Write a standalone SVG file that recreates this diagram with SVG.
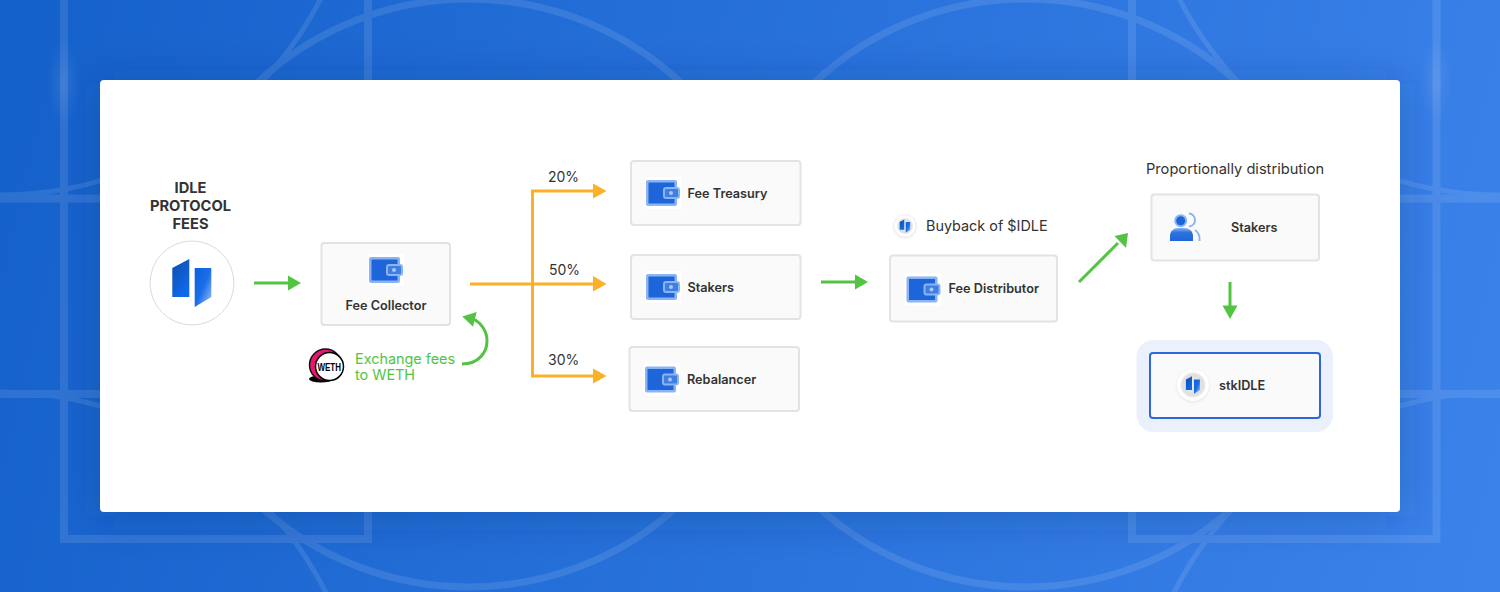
<svg xmlns="http://www.w3.org/2000/svg" xmlns:xlink="http://www.w3.org/1999/xlink" width="1500" height="592" viewBox="0 0 1500 592">
<style>
text{font-family:Inter,"Liberation Sans",sans-serif;fill:#333}
.b{font-weight:600;font-size:12.7px}
.h{font-weight:700;font-size:14.700px;text-anchor:middle}
.l{font-size:14px}
.g{font-size:14.400px;fill:#52c442}
.box{fill:#fafafa;stroke:#e3e3e3;stroke-width:2}
.bg{fill:none;stroke:#fff}
.or{fill:none;stroke:#fbb025;stroke-width:3}
.gr{fill:none;stroke:#52c442;stroke-width:3}
.orf{fill:#fbb025}
.grf{fill:#52c442}
</style>
<defs>
<linearGradient id="bgG" gradientUnits="userSpaceOnUse" x1="0" y1="120" x2="1500" y2="480"><stop offset="0" stop-color="#1561cb"/><stop offset="1" stop-color="#3b82ea"/></linearGradient>
<linearGradient id="l1" x1="0" y1="0" x2=".6" y2="1"><stop offset="0" stop-color="#0f4fa8"/><stop offset="1" stop-color="#0f69ee"/></linearGradient>
<linearGradient id="l2" x1="0" y1="0" x2="1" y2="1"><stop offset="0" stop-color="#0c60dc"/><stop offset=".5" stop-color="#1a6eea"/><stop offset="1" stop-color="#a0c2f7"/></linearGradient>
<linearGradient id="body" x1="0" y1="0" x2="0" y2="1"><stop offset="0" stop-color="#8ab4f4"/><stop offset=".35" stop-color="#2d72de"/><stop offset="1" stop-color="#1d65d9"/></linearGradient>
<radialGradient id="glow"><stop offset="0" stop-color="#fff" stop-opacity=".09"/><stop offset="1" stop-color="#fff" stop-opacity="0"/></radialGradient>
<radialGradient id="disc"><stop offset="0" stop-color="#f0f0f0"/><stop offset=".8" stop-color="#dfdfdf"/><stop offset="1" stop-color="#ececec"/></radialGradient>
<filter id="sh" x="-10%" y="-20%" width="120%" height="140%"><feGaussianBlur stdDeviation="22"/></filter>
<filter id="soft" x="-30%" y="-30%" width="160%" height="160%"><feGaussianBlur stdDeviation="1"/></filter>
<g id="wallet">
<rect x="-1" y="-3" width="36" height="32" fill="#fff"/>
<rect x="0" y="0" width="31" height="26" rx="2" fill="#8ab4f4"/>
<rect x="2.500" y="2.500" width="26" height="21" fill="#1d65d9"/>
<rect x="18" y="8" width="15" height="10" rx="2" fill="#3f7fe4" stroke="#8ab4f4" stroke-width="2"/>
<circle cx="25" cy="13" r="2" fill="#a9c8f7"/>
</g>
<g id="logo">
<polygon points="172.300,268 189.300,259 189.300,297 172.300,297" fill="url(#l1)"/>
<polygon points="194.700,268 211.300,268 211.300,297 194.700,307" fill="url(#l2)"/>
</g>
</defs>

<g id="background">
<rect width="1500" height="592" fill="url(#bgG)"/>
<g opacity=".1">
<g class="bg" stroke-width="7">
<ellipse cx="469" cy="293" rx="303" ry="294"/>
<ellipse cx="1026" cy="293" rx="303" ry="294"/>
</g>
<g class="bg" stroke-width="5">
<circle cx="0" cy="-165" r="360"/>
<circle cx="0" cy="757" r="365"/>
<circle cx="1500" cy="-165" r="360"/>
<circle cx="1500" cy="757" r="365"/>
</g>
<g class="bg" stroke-width="8">
<path d="M64 0V539H368V0"/>
<path d="M1132 0V539H1436.500V0"/>
<path d="M0 198.500H1500M0 394H1500"/>
</g>
</g>
<ellipse cx="64" cy="84" rx="16" ry="42" fill="url(#glow)"/>
<ellipse cx="1436" cy="81" rx="16" ry="42" fill="url(#glow)"/>
</g>

<g id="card">
<rect x="100" y="84" width="1300" height="432" fill="#0a2f70" fill-opacity=".28" filter="url(#sh)"/>
<rect x="100" y="80" width="1300" height="432" rx="4" fill="#fff"/>
</g>

<g id="connectors">
<path class="gr" d="M254 283H289"/>
<polygon class="grf" points="288,275.500 301,283 288,290.500"/>
<path class="or" d="M470 284H595"/>
<path class="or" d="M595 191H532.500V376H595"/>
<polygon class="orf" points="593,183.500 606.500,191 593,198.500"/>
<polygon class="orf" points="593,276 606.500,284 593,291.500"/>
<polygon class="orf" points="593,368.500 606.500,376 593,383.500"/>
<path class="gr" d="M821 282H856"/>
<polygon class="grf" points="855,274.500 868,282 855,289.500"/>
<path class="gr" d="M1079 282L1118 243"/>
<polygon class="grf" points="1128,233 1114.500,236 1126,248"/>
<path class="gr" d="M1230 282V307"/>
<polygon class="grf" points="1222.500,305.500 1237.500,305.500 1230,319"/>
<path class="gr" d="M462 364C479 364 487 352 487 341C487 331 481 323 472 318"/>
<polygon class="grf" points="462.300,316.500 476.700,312 473,326.700"/>
</g>

<g id="idle-fees">
<text class="h" x="190.500" y="193">IDLE</text>
<text class="h" x="190.500" y="211">PROTOCOL</text>
<text class="h" x="190.500" y="229">FEES</text>
<circle cx="192" cy="283" r="42" fill="#fff" stroke="#d9dbe4" stroke-width="1"/>
<use xlink:href="#logo" href="#logo"/>
</g>

<g id="fee-collector">
<rect class="box" x="321.500" y="243" width="128.500" height="82" rx="3"/>
<use xlink:href="#wallet" href="#wallet" x="369" y="257"/>
<text class="b" x="386" y="310" text-anchor="middle">Fee Collector</text>
</g>

<g id="weth">
<ellipse cx="321" cy="379" rx="12" ry="3.500" fill="#000"/>
<circle cx="325.500" cy="365" r="16" fill="#e8166f" stroke="#111" stroke-width="1.500"/>
<circle cx="329.500" cy="366.500" r="14" fill="#fff" stroke="#000" stroke-width="1.500"/>
<text x="317.500" y="370.500" textLength="23.500" lengthAdjust="spacingAndGlyphs" style="font-family:'Liberation Sans',sans-serif;font-weight:700;font-size:10.500px;fill:#000">WETH</text>
<text class="g" x="355" y="364">Exchange fees</text>
<text class="g" x="355" y="380">to WETH</text>
</g>

<g id="fee-treasury">
<rect class="box" x="631" y="161" width="169.500" height="64" rx="3"/>
<use xlink:href="#wallet" href="#wallet" x="646" y="180"/>
<text class="b" x="687.500" y="197.500">Fee Treasury</text>
<text class="l" x="548" y="182">20%</text>
</g>

<g id="stakers-share">
<rect class="box" x="631" y="255" width="169.500" height="64" rx="3"/>
<use xlink:href="#wallet" href="#wallet" x="646" y="274"/>
<text class="b" x="687.500" y="291.500">Stakers</text>
<text class="l" x="549" y="275">50%</text>
</g>

<g id="rebalancer">
<rect class="box" x="629.500" y="347" width="169.500" height="64" rx="3"/>
<use xlink:href="#wallet" href="#wallet" x="645" y="366.500"/>
<text class="b" x="687" y="383.500">Rebalancer</text>
<text class="l" x="548" y="365">30%</text>
</g>

<g id="fee-distributor">
<circle cx="905" cy="226.500" r="11.500" fill="#e8e8e8" filter="url(#soft)"/>
<circle cx="905" cy="226" r="10.500" fill="#fff"/>
<circle cx="905" cy="226" r="8" fill="url(#disc)"/>
<use xlink:href="#logo" href="#logo" transform="translate(905 226) scale(.27) translate(-192 -283)"/>
<text x="926" y="231" style="font-size:14.400px">Buyback of $IDLE</text>
<rect class="box" x="890" y="255.500" width="167" height="66" rx="3"/>
<use xlink:href="#wallet" href="#wallet" x="906.500" y="276.500"/>
<text class="b" x="948.500" y="293">Fee Distributor</text>
</g>

<g id="stakers">
<text x="1146" y="174" style="font-size:14.650px">Proportionally distribution</text>
<rect class="box" x="1151.500" y="194.500" width="167.500" height="66" rx="3"/>
<circle cx="1180.700" cy="220.700" r="5.500" fill="#1d65d9" stroke="#8ab4f4" stroke-width="2"/>
<path d="M1170 241V236C1170 231 1174 228 1178 228H1184C1189 228 1193 231 1193 236V241Z" fill="url(#body)"/>
<path d="M1189 213.500C1193 214 1195 217 1195 220C1195 223 1193 226 1189 226.500M1195 230C1198 232 1200 236 1199.500 241" fill="none" stroke="#8ab4f4" stroke-width="2"/>
<text class="b" x="1231" y="232">Stakers</text>
</g>

<g id="stkidle">
<rect x="1136.500" y="340" width="196.500" height="92" rx="17" fill="#ebf1fc"/>
<rect x="1150" y="353" width="170" height="65" rx="3" fill="#fafafa" stroke="#2e68d8" stroke-width="2"/>
<circle cx="1193" cy="386" r="16.500" fill="#e9e9e9" filter="url(#soft)"/>
<circle cx="1193" cy="385" r="16" fill="#fff"/>
<circle cx="1193" cy="385" r="12.500" fill="url(#disc)"/>
<use xlink:href="#logo" href="#logo" transform="translate(1193 385) scale(.36) translate(-192 -283)"/>
<text class="b" x="1219" y="390">stkIDLE</text>
</g>
</svg>
